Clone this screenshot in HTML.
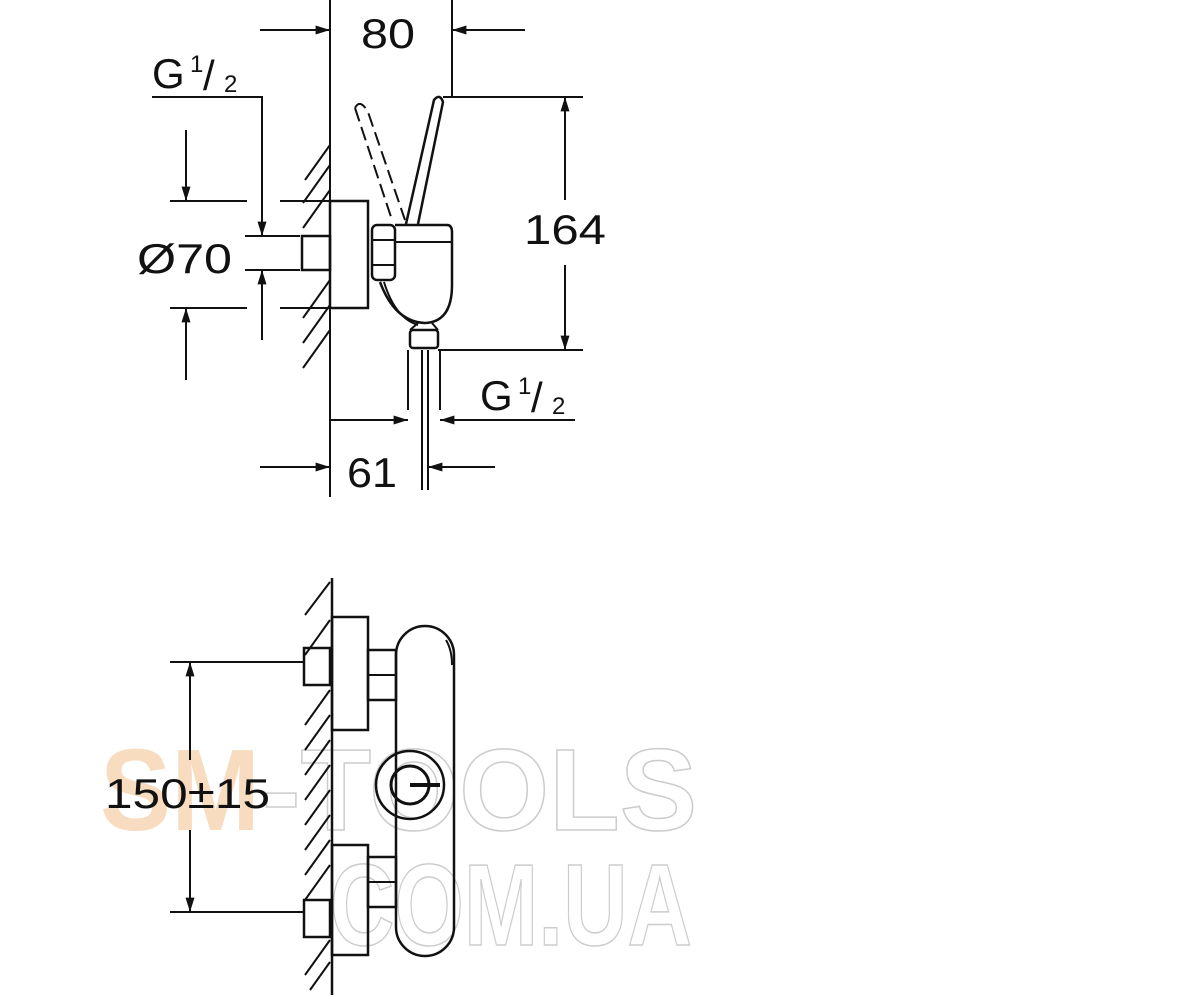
<!DOCTYPE html>
<html><head><meta charset="utf-8"><style>
html,body{margin:0;padding:0;background:#fff}
svg{display:block}
text{font-family:"Liberation Sans",Arial,sans-serif;fill:#111}
</style></head><body>
<svg width="1200" height="1000" viewBox="0 0 1200 1000" xmlns="http://www.w3.org/2000/svg">
<defs>
<marker id="b" viewBox="0 0 16 10" refX="16" refY="5" markerWidth="16" markerHeight="9" orient="auto-start-reverse" markerUnits="userSpaceOnUse"><path d="M0,0 L16,5 L0,10z" fill="#111"/></marker>
</defs>
<!-- watermark -->
<g font-family="Liberation Sans,Arial,sans-serif" font-weight="bold" font-size="116">
<text x="100" y="830" textLength="160" lengthAdjust="spacingAndGlyphs" style="fill:#f7dcc0">SM</text>
<text x="262" y="830" textLength="435" lengthAdjust="spacingAndGlyphs" style="fill:none;stroke:#ccc;stroke-width:1.5">-TOOLS</text>
<text x="330" y="945" textLength="362" lengthAdjust="spacingAndGlyphs" style="fill:none;stroke:#ccc;stroke-width:1.5">COM.UA</text>
</g>
<g stroke="#111" fill="none" stroke-width="2">
<line x1="330" y1="0" x2="330" y2="497"/>
<line x1="452" y1="0" x2="452" y2="97"/>
<line x1="260" y1="30" x2="330" y2="30" marker-end="url(#b)"/>
<line x1="525" y1="30" x2="452" y2="30" marker-end="url(#b)"/>
<polyline points="152,97 262,97 262,236" marker-end="url(#b)"/>
<line x1="170" y1="201" x2="247" y2="201"/><line x1="280" y1="201" x2="330" y2="201"/>
<line x1="170" y1="308" x2="247" y2="308"/><line x1="280" y1="308" x2="330" y2="308"/>
<line x1="245" y1="236" x2="300" y2="236"/><line x1="245" y1="270" x2="300" y2="270"/>
<line x1="186" y1="130" x2="186" y2="201" marker-end="url(#b)"/>
<line x1="186" y1="380" x2="186" y2="308" marker-end="url(#b)"/>
<line x1="262" y1="340" x2="262" y2="270" marker-end="url(#b)"/>
<g stroke-width="2">
<line x1="330" y1="145" x2="305" y2="180"/><line x1="330" y1="165" x2="303" y2="203"/>
<line x1="330" y1="190" x2="303" y2="228"/><line x1="330" y1="280" x2="303" y2="318"/>
<line x1="330" y1="305" x2="303" y2="343"/><line x1="330" y1="330" x2="303" y2="368"/>
</g>
<rect x="330" y="201" width="38" height="107" stroke-width="2.5"/>
<rect x="302" y="236" width="28" height="34" stroke-width="2.5"/>
<rect x="372" y="225" width="23" height="55" rx="5" stroke-width="2.5"/>
<line x1="372" y1="240" x2="395" y2="240"/><line x1="372" y1="265" x2="395" y2="265"/>
<path d="M395,225 L447,225 Q452,225 452,232 L452,285 Q452,322 425,323 Q395,322 380,282" stroke-width="2.5"/>
<line x1="395" y1="242" x2="452" y2="242"/>
<path d="M384,282 Q395,318 418,325"/>
<rect x="410" y="330" width="28" height="18" rx="3" stroke-width="2.5"/>
<path d="M418,323 L410,330 M432,323 L438,330"/>
<path d="M406,224 L434,100 Q440,93 443,102 L418,224" stroke-width="2.5"/>
<path d="M355,108 Q360,98 368,112 L405,220 M355,108 L392,220" stroke-dasharray="14,6" stroke-width="2"/>
<line x1="443" y1="97" x2="583" y2="97"/>
<line x1="438" y1="350" x2="583" y2="350"/>
<line x1="565" y1="200" x2="565" y2="97" marker-end="url(#b)"/>
<line x1="565" y1="265" x2="565" y2="350" marker-end="url(#b)"/>
<line x1="408" y1="350" x2="408" y2="410"/><line x1="440" y1="350" x2="440" y2="410"/>
<line x1="422" y1="350" x2="422" y2="490"/><line x1="428" y1="350" x2="428" y2="490"/>
<line x1="330" y1="420" x2="408" y2="420" marker-end="url(#b)"/>
<line x1="575" y1="420" x2="440" y2="420" marker-end="url(#b)"/>
<line x1="260" y1="467" x2="330" y2="467" marker-end="url(#b)"/>
<line x1="495" y1="467" x2="428" y2="467" marker-end="url(#b)"/>

<line x1="332" y1="578" x2="332" y2="995" stroke-width="2.5"/>
<g stroke-width="2">
<line x1="330" y1="582" x2="305" y2="615"/><line x1="330" y1="620" x2="305" y2="655"/>
<line x1="330" y1="690" x2="305" y2="725"/><line x1="330" y1="715" x2="305" y2="750"/>
<line x1="330" y1="740" x2="305" y2="775"/><line x1="330" y1="765" x2="305" y2="800"/>
<line x1="330" y1="790" x2="305" y2="825"/><line x1="330" y1="815" x2="305" y2="850"/>
<line x1="330" y1="840" x2="305" y2="875"/><line x1="330" y1="865" x2="305" y2="900"/>
<line x1="330" y1="940" x2="305" y2="975"/><line x1="330" y1="962" x2="310" y2="990"/>
</g>
<rect x="332" y="617" width="36" height="113" stroke-width="2.5"/>
<rect x="332" y="845" width="36" height="110" stroke-width="2.5"/>
<rect x="304" y="648" width="26" height="37" stroke-width="2.5"/>
<rect x="304" y="900" width="26" height="37" stroke-width="2.5"/>
<rect x="368" y="650" width="28" height="50" stroke-width="2.5"/>
<line x1="368" y1="675" x2="396" y2="675"/>
<rect x="368" y="857" width="28" height="50" stroke-width="2.5"/>
<line x1="368" y1="882" x2="396" y2="882"/>
<rect x="396" y="626" width="58" height="330" rx="29" stroke-width="2.5"/>
<path d="M446,640 Q452,650 452,665"/>
<circle cx="410" cy="785" r="34" stroke-width="2.5"/>
<circle cx="410" cy="785" r="19" stroke-width="3"/>
<line x1="410" y1="785" x2="440" y2="785" stroke-width="4"/>
<line x1="170" y1="662" x2="305" y2="662"/>
<line x1="170" y1="912" x2="305" y2="912"/>
<line x1="190" y1="760" x2="190" y2="662" marker-end="url(#b)"/>
<line x1="190" y1="830" x2="190" y2="912" marker-end="url(#b)"/>
</g>
<text x="361" y="48" font-size="42" textLength="54" lengthAdjust="spacingAndGlyphs">80</text>
<text x="152" y="88" font-size="42">G</text>
<text x="190" y="72" font-size="24">1</text>
<text x="203" y="90" font-size="42">/</text>
<text x="224" y="92" font-size="24">2</text>
<text x="137" y="273" font-size="42" textLength="95" lengthAdjust="spacingAndGlyphs">Ø70</text>
<text x="524" y="244" font-size="42" textLength="82" lengthAdjust="spacingAndGlyphs">164</text>
<text x="480" y="410" font-size="42">G</text>
<text x="518" y="394" font-size="24">1</text>
<text x="531" y="412" font-size="42">/</text>
<text x="552" y="414" font-size="24">2</text>
<text x="347" y="487" font-size="42" textLength="50" lengthAdjust="spacingAndGlyphs">61</text>
<text x="105" y="808" font-size="42" textLength="165" lengthAdjust="spacingAndGlyphs">150±15</text>
</svg>
</body></html>
